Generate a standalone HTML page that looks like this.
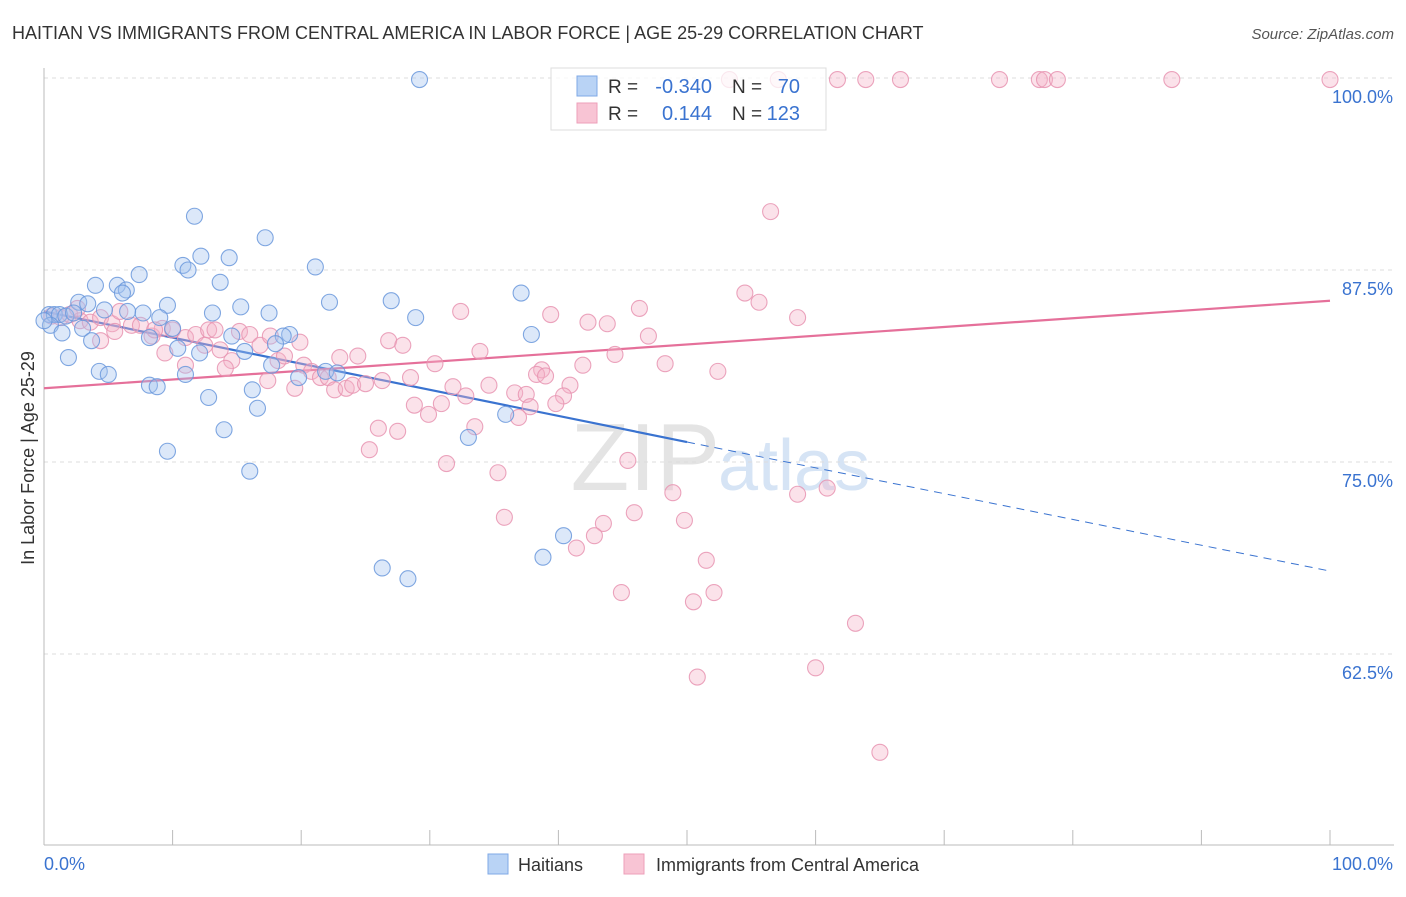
<!DOCTYPE html>
<html><head><meta charset="utf-8"><style>
body{margin:0;background:#fff;font-family:"Liberation Sans",sans-serif;}
svg text{font-family:"Liberation Sans",sans-serif;}
</style></head><body>
<svg id="chart" width="1406" height="892" viewBox="0 0 1406 892">
<text x="12" y="39" font-size="18" fill="#333">HAITIAN VS IMMIGRANTS FROM CENTRAL AMERICA IN LABOR FORCE | AGE 25-29 CORRELATION CHART</text>
<text x="1394" y="39" font-size="15" fill="#555" font-style="italic" text-anchor="end">Source: ZipAtlas.com</text>
<text x="720" y="490" font-size="96" fill="#e4e4e4" font-family="Liberation Serif" text-anchor="end">ZIP</text>
<text x="718" y="490" font-size="72" fill="#d6e4f5">atlas</text>
<g id="grid"></g>
<g id="axes"></g>
<g id="lines"></g>
<g id="pts"></g>
<text transform="translate(34,458) rotate(-90)" font-size="18" fill="#333" text-anchor="middle">In Labor Force | Age 25-29</text>
<g>
<rect x="551" y="68" width="275" height="62" fill="#fff" fill-opacity="0.75" stroke="#ddd"/>
<rect x="577" y="76" width="20" height="20" fill="#b9d3f5" stroke="#7fa8e6"/>
<rect x="577" y="103" width="20" height="20" fill="#f8c4d4" stroke="#ee9fba"/>
<text x="608" y="93" font-size="19" fill="#333">R =</text><text x="712" y="93" font-size="20" fill="#3a73d0" text-anchor="end">-0.340</text>
<text x="732" y="93" font-size="19" fill="#333">N =</text><text x="800" y="93" font-size="20" fill="#3a73d0" text-anchor="end">70</text>
<text x="608" y="120" font-size="19" fill="#333">R =</text><text x="712" y="120" font-size="20" fill="#3a73d0" text-anchor="end">0.144</text>
<text x="732" y="120" font-size="19" fill="#333">N =</text><text x="800" y="120" font-size="20" fill="#3a73d0" text-anchor="end">123</text>
</g>
<g>
<rect x="488" y="854" width="20" height="20" fill="#b9d3f5" stroke="#7fa8e6"/>
<text x="518" y="871" font-size="18" fill="#333">Haitians</text>
<rect x="624" y="854" width="20" height="20" fill="#f8c4d4" stroke="#ee9fba"/>
<text x="656" y="871" font-size="18" fill="#333">Immigrants from Central America</text>
</g>
</svg>
<script>
const blueX=[29.2,11.7,17.2,12.2,14.4,10.8,11.2,21.1,7.4,13.7,4.0,5.7,6.4,6.1,37.1,22.2,27.0,2.7,9.6,3.4,15.3,13.1,17.5,7.7,28.9,4.7,6.5,9.0,0.4,0.8,1.2,1.7,2.3,0.5,3.0,1.4,3.7,10.0,14.6,19.1,18.6,8.2,18.0,37.9,10.4,15.6,12.1,1.9,4.3,5.0,17.7,19.8,11.0,21.9,22.8,8.2,8.8,16.2,12.8,16.6,35.9,14.0,33.0,9.6,16.0,40.4,38.8,26.3,28.3,0];
const blueY=[99.9,91.0,89.6,88.4,88.3,87.8,87.5,87.7,87.2,86.7,86.5,86.5,86.2,86.0,86.0,85.4,85.5,85.4,85.2,85.3,85.1,84.7,84.7,84.7,84.4,84.9,84.8,84.4,84.6,84.6,84.6,84.5,84.7,83.9,83.7,83.4,82.9,83.7,83.2,83.3,83.2,83.1,82.7,83.3,82.4,82.2,82.1,81.8,80.9,80.7,81.3,80.5,80.7,80.9,80.8,80.0,79.9,79.7,79.2,78.5,78.1,77.1,76.6,75.7,74.4,70.2,68.8,68.1,67.4,84.2];
const pinkX=[53.3,57.1,61.7,63.9,66.6,74.3,77.4,77.8,78.8,87.7,100,56.5,54.5,55.6,58.6,46.3,32.4,39.4,42.3,43.8,47.0,26.8,27.9,33.9,44.4,48.3,52.4,30.4,38.7,41.9,38.3,39.0,40.9,34.6,28.5,31.8,32.8,36.6,37.5,40.4,37.8,39.8,36.9,29.9,30.9,33.5,28.8,26.0,27.5,25.3,31.3,35.3,45.4,48.9,60.9,58.6,45.9,43.5,49.8,42.8,35.8,41.4,51.5,44.9,52.1,50.5,63.1,60.0,50.8,65.0,0.6,1.3,2.0,2.8,3.6,4.4,5.3,5.9,6.8,7.5,8.4,9.2,10.0,11.0,11.8,12.8,13.3,13.7,14.6,15.2,16.0,16.8,17.6,18.2,18.7,19.9,20.2,20.8,21.5,22.1,22.6,23.0,23.5,24.0,24.4,25.0,26.3,4.4,5.5,9.4,11.0,12.5,14.1,17.4,19.5,8.6,2.6];
const pinkY=[99.9,99.9,99.9,99.9,99.9,99.9,99.9,99.9,99.9,99.9,99.9,91.3,86.0,85.4,84.4,85.0,84.8,84.6,84.1,84.0,83.2,82.9,82.6,82.2,82.0,81.4,80.9,81.4,81.0,81.3,80.7,80.6,80.0,80.0,80.5,79.9,79.3,79.5,79.4,79.3,78.6,78.8,77.9,78.1,78.8,77.3,78.7,77.2,77.0,75.8,74.9,74.3,75.1,73.0,73.3,72.9,71.7,71.0,71.2,70.2,71.4,69.4,68.6,66.5,66.5,65.9,64.5,61.6,61.0,56.1,84.5,84.4,84.6,84.2,84.1,84.4,84.0,84.8,83.9,83.9,83.2,83.7,83.6,83.1,83.3,83.6,83.6,82.3,81.6,83.5,83.3,82.6,83.2,81.6,81.9,82.8,81.3,80.9,80.5,80.5,79.7,81.8,79.8,80.0,81.9,80.1,80.3,82.9,83.5,82.1,81.3,82.6,81.1,80.3,79.8,83.6,85.0];
const blueTrend=[84.8,76.3,67.9];
const pinkTrend=[79.8,85.5];
const yTicks=[100,87.5,75,62.5];
const yTickLabels=["100.0%","87.5%","75.0%","62.5%"];
const NS="http://www.w3.org/2000/svg";
const X=v=>44+v*12.86, Y=v=>78+(100-v)*15.36;
function mk(tag,attrs,parent){const e=document.createElementNS(NS,tag);for(const k in attrs)e.setAttribute(k,attrs[k]);document.getElementById(parent).appendChild(e);return e;}
yTicks.forEach((t,i)=>{
 const g=mk('line',{x1:44,x2:1394,y1:Y(t),y2:Y(t),stroke:'#ddd','stroke-dasharray':'4,4'},'grid');
 
 
 const l=mk('text',{x:1393,y:Y(t)+25,'font-size':18,fill:'#3a73d0','text-anchor':'end'},'axes');
 l.textContent=yTickLabels[i];
 
 
});
mk('line',{x1:44,x2:44,y1:68,y2:845,stroke:'#bbb'},'axes');
mk('line',{x1:44,x2:1394,y1:845,y2:845,stroke:'#bbb'},'axes');
for(let i=0;i<=10;i++){const t=mk('line',{x1:X(i*10),x2:X(i*10),y1:830,y2:845,stroke:'#bbb'},'axes');}
let a=mk('text',{x:44,y:870,'font-size':18,fill:'#3a73d0'},'axes');a.textContent='0.0%';


a=mk('text',{x:1393,y:870,'font-size':18,fill:'#3a73d0','text-anchor':'end'},'axes');a.textContent='100.0%';


function dot(x,y,fill,stroke,name){const c=mk('circle',{cx:X(x),cy:Y(y),r:8,fill:fill,'fill-opacity':0.38,stroke:stroke,'stroke-width':1.1,'stroke-opacity':0.85},'pts');
 
 }
pinkX.forEach((x,i)=>dot(x,pinkY[i],'#f5b3c8','#e894b2','point-central-america'));
blueX.forEach((x,i)=>dot(x,blueY[i],'#a3c3f0','#6a98dc','point-haitians'));
let bl=mk('line',{x1:X(0),y1:Y(blueTrend[0]),x2:X(50),y2:Y(blueTrend[1]),stroke:'#3a73d0','stroke-width':2.2},'lines');


bl=mk('line',{x1:X(50),y1:Y(blueTrend[1]),x2:X(100),y2:Y(blueTrend[2]),stroke:'#3a73d0','stroke-width':1,'stroke-dasharray':'8,6'},'lines');


const pl=mk('line',{x1:X(0),y1:Y(pinkTrend[0]),x2:X(100),y2:Y(pinkTrend[1]),stroke:'#e5709a','stroke-width':2.2},'lines');


</script>
</body></html>
